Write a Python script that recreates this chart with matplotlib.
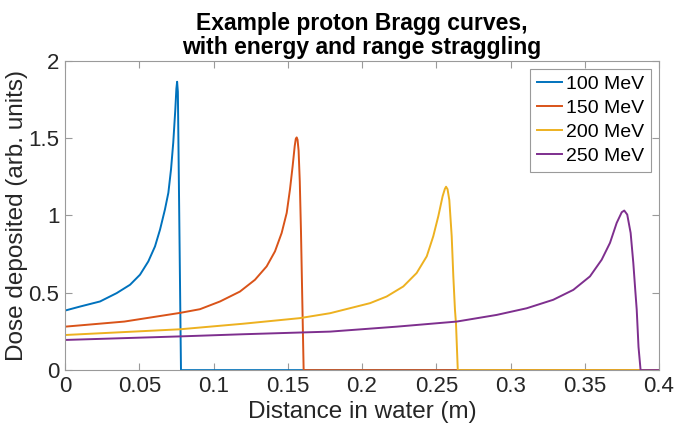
import matplotlib
matplotlib.use("Agg")
from matplotlib import pyplot as plt

plt.rcParams['font.family'] = ['Liberation Sans', 'DejaVu Sans']

labels = ['100 MeV', '150 MeV', '200 MeV', '250 MeV']
colors = ['#0072BD', '#D95319', '#EDB120', '#7E2F8E']

# depth (m) and dose (arb. units)
x_100 = [0, 0.0101, 0.0236, 0.0348, 0.0438, 0.0505, 0.0561, 0.0606, 0.064,
         0.0673, 0.0696, 0.0714, 0.0729, 0.0743, 0.075, 0.0755, 0.076,
         0.0781, 0.4]
y_100 = [0.385, 0.411, 0.444, 0.498, 0.552, 0.617, 0.703, 0.80, 0.909,
         1.039, 1.147, 1.299, 1.472, 1.688, 1.82, 1.865, 1.80,
         0, 0]

x_150 = [0, 0.04, 0.0774, 0.0909, 0.1044, 0.1178, 0.1279, 0.1358, 0.1414,
         0.1459, 0.1493, 0.1515, 0.1533, 0.1547, 0.1554, 0.156, 0.1566,
         0.1573, 0.1581, 0.1589, 0.1597, 0.1607, 0.4]
y_150 = [0.281, 0.314, 0.370, 0.394, 0.444, 0.508, 0.584, 0.671, 0.768,
         0.887, 1.017, 1.169, 1.32, 1.45, 1.495, 1.505, 1.49,
         1.42, 1.22, 0.9, 0.5, 0, 0]

x_200 = [0, 0.0774, 0.12, 0.158, 0.1785, 0.2054, 0.2166, 0.2278, 0.2368,
         0.2436, 0.248, 0.2514, 0.2543, 0.2558, 0.2566, 0.2576, 0.2588,
         0.2604, 0.2615, 0.2626, 0.2633, 0.2645, 0.4]
y_200 = [0.227, 0.264, 0.30, 0.336, 0.368, 0.433, 0.476, 0.541, 0.628,
         0.736, 0.866, 0.996, 1.125, 1.172, 1.186, 1.17, 1.10,
         0.866, 0.606, 0.39, 0.30, 0, 0]

x_250 = [0, 0.0774, 0.12, 0.1785, 0.2233, 0.2638, 0.2907, 0.3109, 0.3288,
         0.3423, 0.3535, 0.3614, 0.367, 0.3715, 0.3749, 0.3766, 0.3786,
         0.3809, 0.3827, 0.384, 0.385, 0.3862, 0.3876, 0.4]
y_250 = [0.195, 0.218, 0.232, 0.249, 0.281, 0.314, 0.357, 0.40, 0.455,
         0.519, 0.606, 0.714, 0.823, 0.952, 1.021, 1.032, 1.006,
         0.887, 0.693, 0.519, 0.39, 0.15, 0, 0]

xs = [x_100, x_150, x_200, x_250]
ys = [y_100, y_150, y_200, y_250]

fig = plt.figure(figsize=(6.75, 4.38), dpi=100)
ax = fig.add_axes([0.0963, 0.155, 0.88, 0.706])

for x, y, lab, c in zip(xs, ys, labels, colors):
    ax.plot(x, y, color=c, lw=1.4, label=lab)

ax.set_xlim(0, 0.4)
ax.set_ylim(0, 2)
ax.set_xticks([0, 0.05, 0.1, 0.15, 0.2, 0.25, 0.3, 0.35, 0.4])
ax.set_xticklabels(['0', '0.05', '0.1', '0.15', '0.2', '0.25', '0.3', '0.35', '0.4'])
ax.set_yticks([0, 0.5, 1, 1.5, 2])
ax.set_yticklabels(['0', '0.5', '1', '1.5', '2'])

txt = '#262626'
for s in ax.spines.values():
    s.set_color('#9a9a9a')
    s.set_linewidth(0.8)
ax.tick_params(direction='in', top=True, right=True, length=5, width=0.8,
               color='#9a9a9a', labelcolor=txt, labelsize=16, pad=4)

ax.set_xlabel('Distance in water (m)', fontsize=17.5, color=txt, labelpad=3)
ax.set_ylabel('Dose deposited (arb. units)', fontsize=17.5, color=txt)
ax.yaxis.set_label_coords(-0.062, 0.5)
ax.set_title('Example proton Bragg curves,\nwith energy and range straggling',
             fontsize=16.5, fontweight='bold', color='black', pad=5,
             linespacing=1.05)

leg = ax.legend(loc='upper right', fontsize=14, handlelength=1.3,
                handletextpad=0.2, borderpad=0.35, labelspacing=0.33,
                fancybox=False, framealpha=1, edgecolor='#9a9a9a',
                borderaxespad=0.4)
leg.get_frame().set_linewidth(0.8)

fig.savefig('out.png', dpi=100)
